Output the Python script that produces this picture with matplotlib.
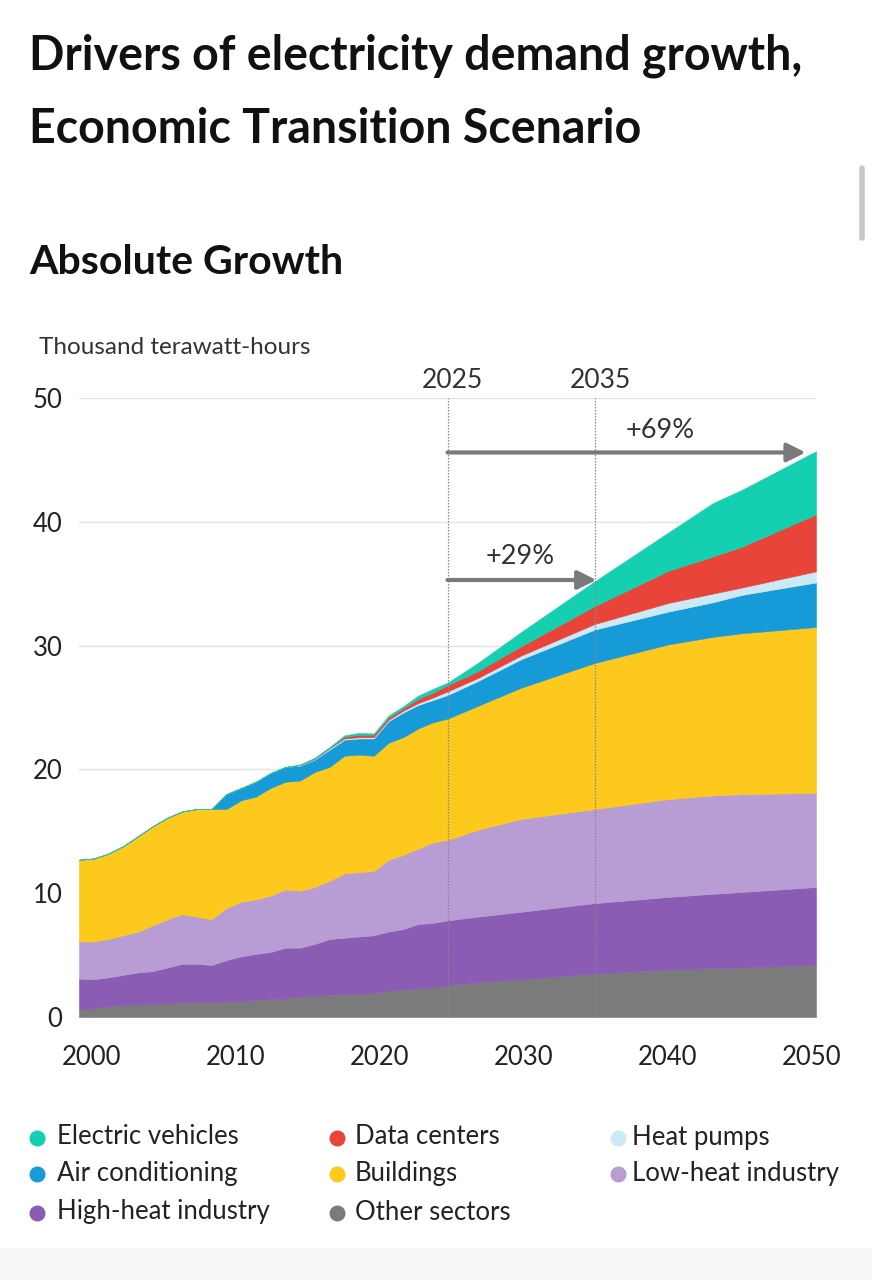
import matplotlib
matplotlib.use("Agg")
import matplotlib.pyplot as plt
from matplotlib.lines import Line2D
from matplotlib.patches import Rectangle
from matplotlib.transforms import ScaledTranslation

plt.rcParams['font.family'] = ['Lato', 'DejaVu Sans']

# ---------------- data ----------------
years = list(range(2000, 2026)) + [2027, 2030, 2035, 2040, 2043, 2045, 2050]

other_sectors = [0.6, 0.7, 0.85, 1.0, 1.0, 1.05, 1.1, 1.2, 1.2, 1.2, 1.25, 1.3, 1.35, 1.45,
                 1.5, 1.65, 1.7, 1.8, 1.85, 1.85, 1.95, 2.1, 2.2, 2.3, 2.4, 2.55,
                 2.8, 3.05, 3.5, 3.85, 3.95, 4.0, 4.2]
high_heat = [2.5, 2.35, 2.35, 2.4, 2.6, 2.65, 2.9, 3.1, 3.1, 3.0, 3.35, 3.6, 3.75, 3.8,
             4.1, 3.95, 4.2, 4.5, 4.55, 4.65, 4.65, 4.8, 4.9, 5.2, 5.2, 5.25,
             5.3, 5.45, 5.7, 5.85, 6.0, 6.1, 6.3]
low_heat = [3.0, 3.05, 3.1, 3.2, 3.3, 3.7, 3.9, 4.0, 3.8, 3.7, 4.2, 4.4, 4.4, 4.55,
            4.7, 4.6, 4.6, 4.7, 5.2, 5.2, 5.2, 5.8, 6.0, 6.1, 6.5, 6.5,
            7.0, 7.5, 7.6, 7.9, 7.95, 7.9, 7.6]
buildings = [6.6, 6.7, 6.9, 7.2, 7.7, 8.0, 8.2, 8.3, 8.7, 8.9, 8.0, 8.2, 8.3, 8.7,
             8.7, 8.9, 9.3, 9.2, 9.5, 9.5, 9.3, 9.45, 9.5, 9.7, 9.7, 9.8,
             10.0, 10.6, 11.8, 12.5, 12.8, 13.0, 13.4]
air_conditioning = [0, 0, 0, 0, 0, 0, 0, 0, 0, 0, 1.2, 1.0, 1.2, 1.2,
                    1.2, 1.2, 1.0, 1.4, 1.3, 1.3, 1.4, 1.75, 2.0, 1.9, 1.8, 1.9,
                    2.0, 2.3, 2.7, 2.65, 2.8, 3.1, 3.6]
heat_pumps = [0, 0, 0, 0, 0, 0, 0, 0, 0, 0, 0, 0, 0, 0,
              0, 0.05, 0.05, 0.1, 0.1, 0.1, 0.1, 0.1, 0.15, 0.15, 0.2, 0.3,
              0.25, 0.3, 0.45, 0.7, 0.7, 0.6, 0.9]
data_centers = [0, 0, 0, 0, 0, 0, 0, 0, 0, 0, 0, 0, 0, 0,
                0, 0, 0.05, 0.05, 0.15, 0.2, 0.2, 0.2, 0.2, 0.35, 0.4, 0.5,
                0.55, 0.75, 1.45, 2.6, 3.0, 3.3, 4.6]
electric_vehicles = [0, 0, 0, 0, 0, 0, 0, 0, 0, 0, 0, 0, 0, 0,
                     0, 0.05, 0.05, 0.05, 0.1, 0.15, 0.1, 0.15, 0.15, 0.25, 0.3, 0.2,
                     0.65, 1.15, 2.0, 3.1, 4.3, 4.6, 5.1]

series_names = ["Other sectors", "High-heat industry", "Low-heat industry", "Buildings",
                "Air conditioning", "Heat pumps", "Data centers", "Electric vehicles"]
series_colors = ["#7b7b7b", "#8a5cb4", "#b89cd4", "#fdc91d",
                 "#179ad8", "#cbe9f6", "#e8443a", "#15cfb1"]

legend_order = ["Electric vehicles", "Data centers", "Heat pumps",
                "Air conditioning", "Buildings", "Low-heat industry",
                "High-heat industry", "Other sectors"]

y_ticks = [0, 10, 20, 30, 40, 50]
x_ticks = [2000, 2010, 2020, 2030, 2040, 2050]
markers = [2025, 2035]
growth_labels = ["+29%", "+69%"]
growth_ends = [2035.1, 2049.3]
growth_levels = [35.3, 45.6]

# ---------------- figure ----------------
W, H = 872, 1280
fig = plt.figure(figsize=(W / 100, H / 100), dpi=100)
fig.patch.set_facecolor("white")

def fx(px):
    return px / W

def fy(py):
    return 1 - py / H

ax = fig.add_axes([fx(79), fy(1017), fx(816) - fx(79), fy(398) - fy(1017)])
values = [other_sectors, high_heat, low_heat, buildings, air_conditioning,
          heat_pumps, data_centers, electric_vehicles]
polys = ax.stackplot(years, values, colors=series_colors, labels=series_names,
                     linewidth=0.4, zorder=2)
for p, c in zip(polys, series_colors):
    p.set_edgecolor(c)

ax.set_xlim(2000, 2050)
ax.set_ylim(0, 50)
ax.set_yticks(y_ticks)
ax.set_xticks(x_ticks)
ax.set_yticklabels([str(v) for v in y_ticks])
ax.set_xticklabels([str(v) for v in x_ticks])
ax.tick_params(axis='both', length=0, labelsize=18.5, colors="#222222")
ax.tick_params(axis='y', pad=12)
ax.tick_params(axis='x', pad=20)
# x labels sit slightly inside the data range in the reference
for t, yr in zip(ax.get_xticklabels(), x_ticks):
    dx = (9 - 12 * (yr - 2000) / 50) / 72.0
    t.set_transform(t.get_transform() + ScaledTranslation(dx, 0, fig.dpi_scale_trans))
for s in ax.spines.values():
    s.set_visible(False)
ax.grid(axis='y', color="#e3e3e3", linewidth=1.0, zorder=0)
ax.set_axisbelow(True)

# vertical marker lines + labels
for m in markers:
    ax.plot([m, m], [0, 50], color="#888888", linestyle=(0, (1.2, 1.2)),
            linewidth=0.9, zorder=3, clip_on=False)
    ax.text(m + 0.35, 51.4, str(m), ha='center', va='center', fontsize=19,
            color="#333333", clip_on=False)

# growth arrows
for lab, xe, yl in zip(growth_labels, growth_ends, growth_levels):
    ax.annotate("", xy=(xe, yl), xytext=(2025, yl),
                arrowprops=dict(arrowstyle='-|>', color="#7a7a7a", lw=3,
                                mutation_scale=28, shrinkA=0, shrinkB=0),
                zorder=4)
ax.text(2029.9, 37.2, growth_labels[0], ha='center', va='center', fontsize=19.5, color="#333333")
ax.text(2039.4, 47.4, growth_labels[1], ha='center', va='center', fontsize=19.5, color="#333333")

# titles
fig.text(fx(29), fy(56), "Drivers of electricity demand growth,", fontsize=33.5,
         fontweight='bold', color="#111111", ha='left', va='center')
fig.text(fx(29), fy(129), "Economic Transition Scenario", fontsize=33.5,
         fontweight='bold', color="#111111", ha='left', va='center')
fig.text(fx(29), fy(262), "Absolute Growth", fontsize=29.5,
         fontweight='bold', color="#111111", ha='left', va='center')
fig.text(fx(39), fy(348), "Thousand terawatt-hours", fontsize=17.5,
         color="#333333", ha='left', va='center')

# legend (manual grid, row-major like the reference)
col_marker_x = [37, 337, 618]
col_text_x = [57, 355, 632]
row_y = [1137, 1173, 1212]
color_of = dict(zip(series_names, series_colors))
for i, name in enumerate(legend_order):
    r, c = divmod(i, 3)
    fig.add_artist(Line2D([fx(col_marker_x[c])], [fy(row_y[r] + 1)], marker='o',
                          markersize=10.5, color=color_of[name], linestyle='none'))
    fig.text(fx(col_text_x[c]), fy(row_y[r]), name, fontsize=18.5, color="#222222",
             ha='left', va='center')

# screenshot artefacts: scrollbar and bottom band
fig.add_artist(Line2D([fx(862), fx(862)], [fy(168), fy(238)], color="#c8c8c8",
                      linewidth=4, solid_capstyle='round'))
fig.add_artist(Rectangle((0, 0), 1, fy(1248), transform=fig.transFigure,
                         facecolor="#f8f8f8", edgecolor='none', zorder=-1))

fig.savefig("out.png", dpi=100, facecolor="white")
